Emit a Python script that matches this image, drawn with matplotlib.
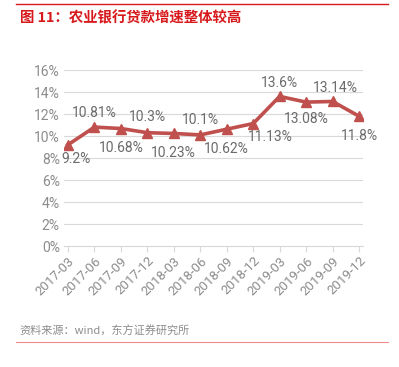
import matplotlib
matplotlib.use("Agg")
import matplotlib.pyplot as plt
from matplotlib.lines import Line2D

plt.rcParams['font.family'] = ['Roboto', 'Noto Sans CJK SC', 'DejaVu Sans']

quarters = ["2017-03", "2017-06", "2017-09", "2017-12", "2018-03", "2018-06",
            "2018-09", "2018-12", "2019-03", "2019-06", "2019-09", "2019-12"]
growth = [9.2, 10.81, 10.68, 10.3, 10.23, 10.1, 10.62, 11.13, 13.6, 13.08, 13.14, 11.8]
yticks = [0, 2, 4, 6, 8, 10, 12, 14, 16]

LINE = "#C0504D"
GRAY = "#8C8C8C"

fig = plt.figure(figsize=(3.99, 3.67), dpi=100)
ax = fig.add_axes([64 / 399, 1 - 246 / 367, 299 / 399, 176 / 367])

x = list(range(len(quarters)))
ax.plot(x, growth, color=LINE, lw=2.6, marker="^", ms=7.5, zorder=3)

# label nudges (points)
dx = [6, 0, 0, 0, 0, 0, 0, 12, 0, 0, 2, 0]
dy = [-10, 10, -14, 11, -14, 11, -14, -10, 10, -12, 10, -14]
for i, v in enumerate(growth):
    ax.annotate(f"{v:g}%", (i, v), xytext=(dx[i], dy[i]), textcoords="offset points",
                ha="center", va="center", fontsize=10, color="#6B6B6B")

ax.set_ylim(0, 16)
ax.set_yticks(yticks)
ax.set_yticklabels([f"{t}%" for t in yticks], fontsize=10, color=GRAY)
ax.set_xlim(-0.15, len(quarters) - 0.85)
ax.set_xticks(x)
ax.set_xticklabels(quarters, rotation=45, ha="right", rotation_mode="anchor",
                   fontsize=9.5, color=GRAY)
ax.grid(axis="y", color="#D9D9D9", lw=0.8)
ax.set_axisbelow(True)
for s in ["left", "right", "top"]:
    ax.spines[s].set_visible(False)
ax.spines["bottom"].set_color("#D9D9D9")
ax.tick_params(axis="y", length=0, pad=3)
ax.tick_params(axis="x", length=4, color="#D9D9D9", pad=2)

# header / footer
fig.add_artist(Line2D([16 / 399, 388 / 399], [1 - 4 / 367] * 2, color="#D7191C", lw=1))
fig.text(20 / 399, 1 - 18 / 367, "图 11：农业银行贷款增速整体较高", fontsize=10.4,
         color="#D7191C", fontweight="bold", va="center",
         family=["Noto Sans CJK SC", "DejaVu Sans"])
fig.text(19 / 399, 1 - 331 / 367, "资料来源：wind，东方证券研究所", fontsize=8,
         color="#8C8C8C", va="center", family=["Noto Sans CJK SC", "DejaVu Sans"])
fig.add_artist(Line2D([16 / 399, 388 / 399], [1 - 342 / 367] * 2, color="#EE8A8A", lw=0.8))

fig.savefig("out.png", dpi=100)
